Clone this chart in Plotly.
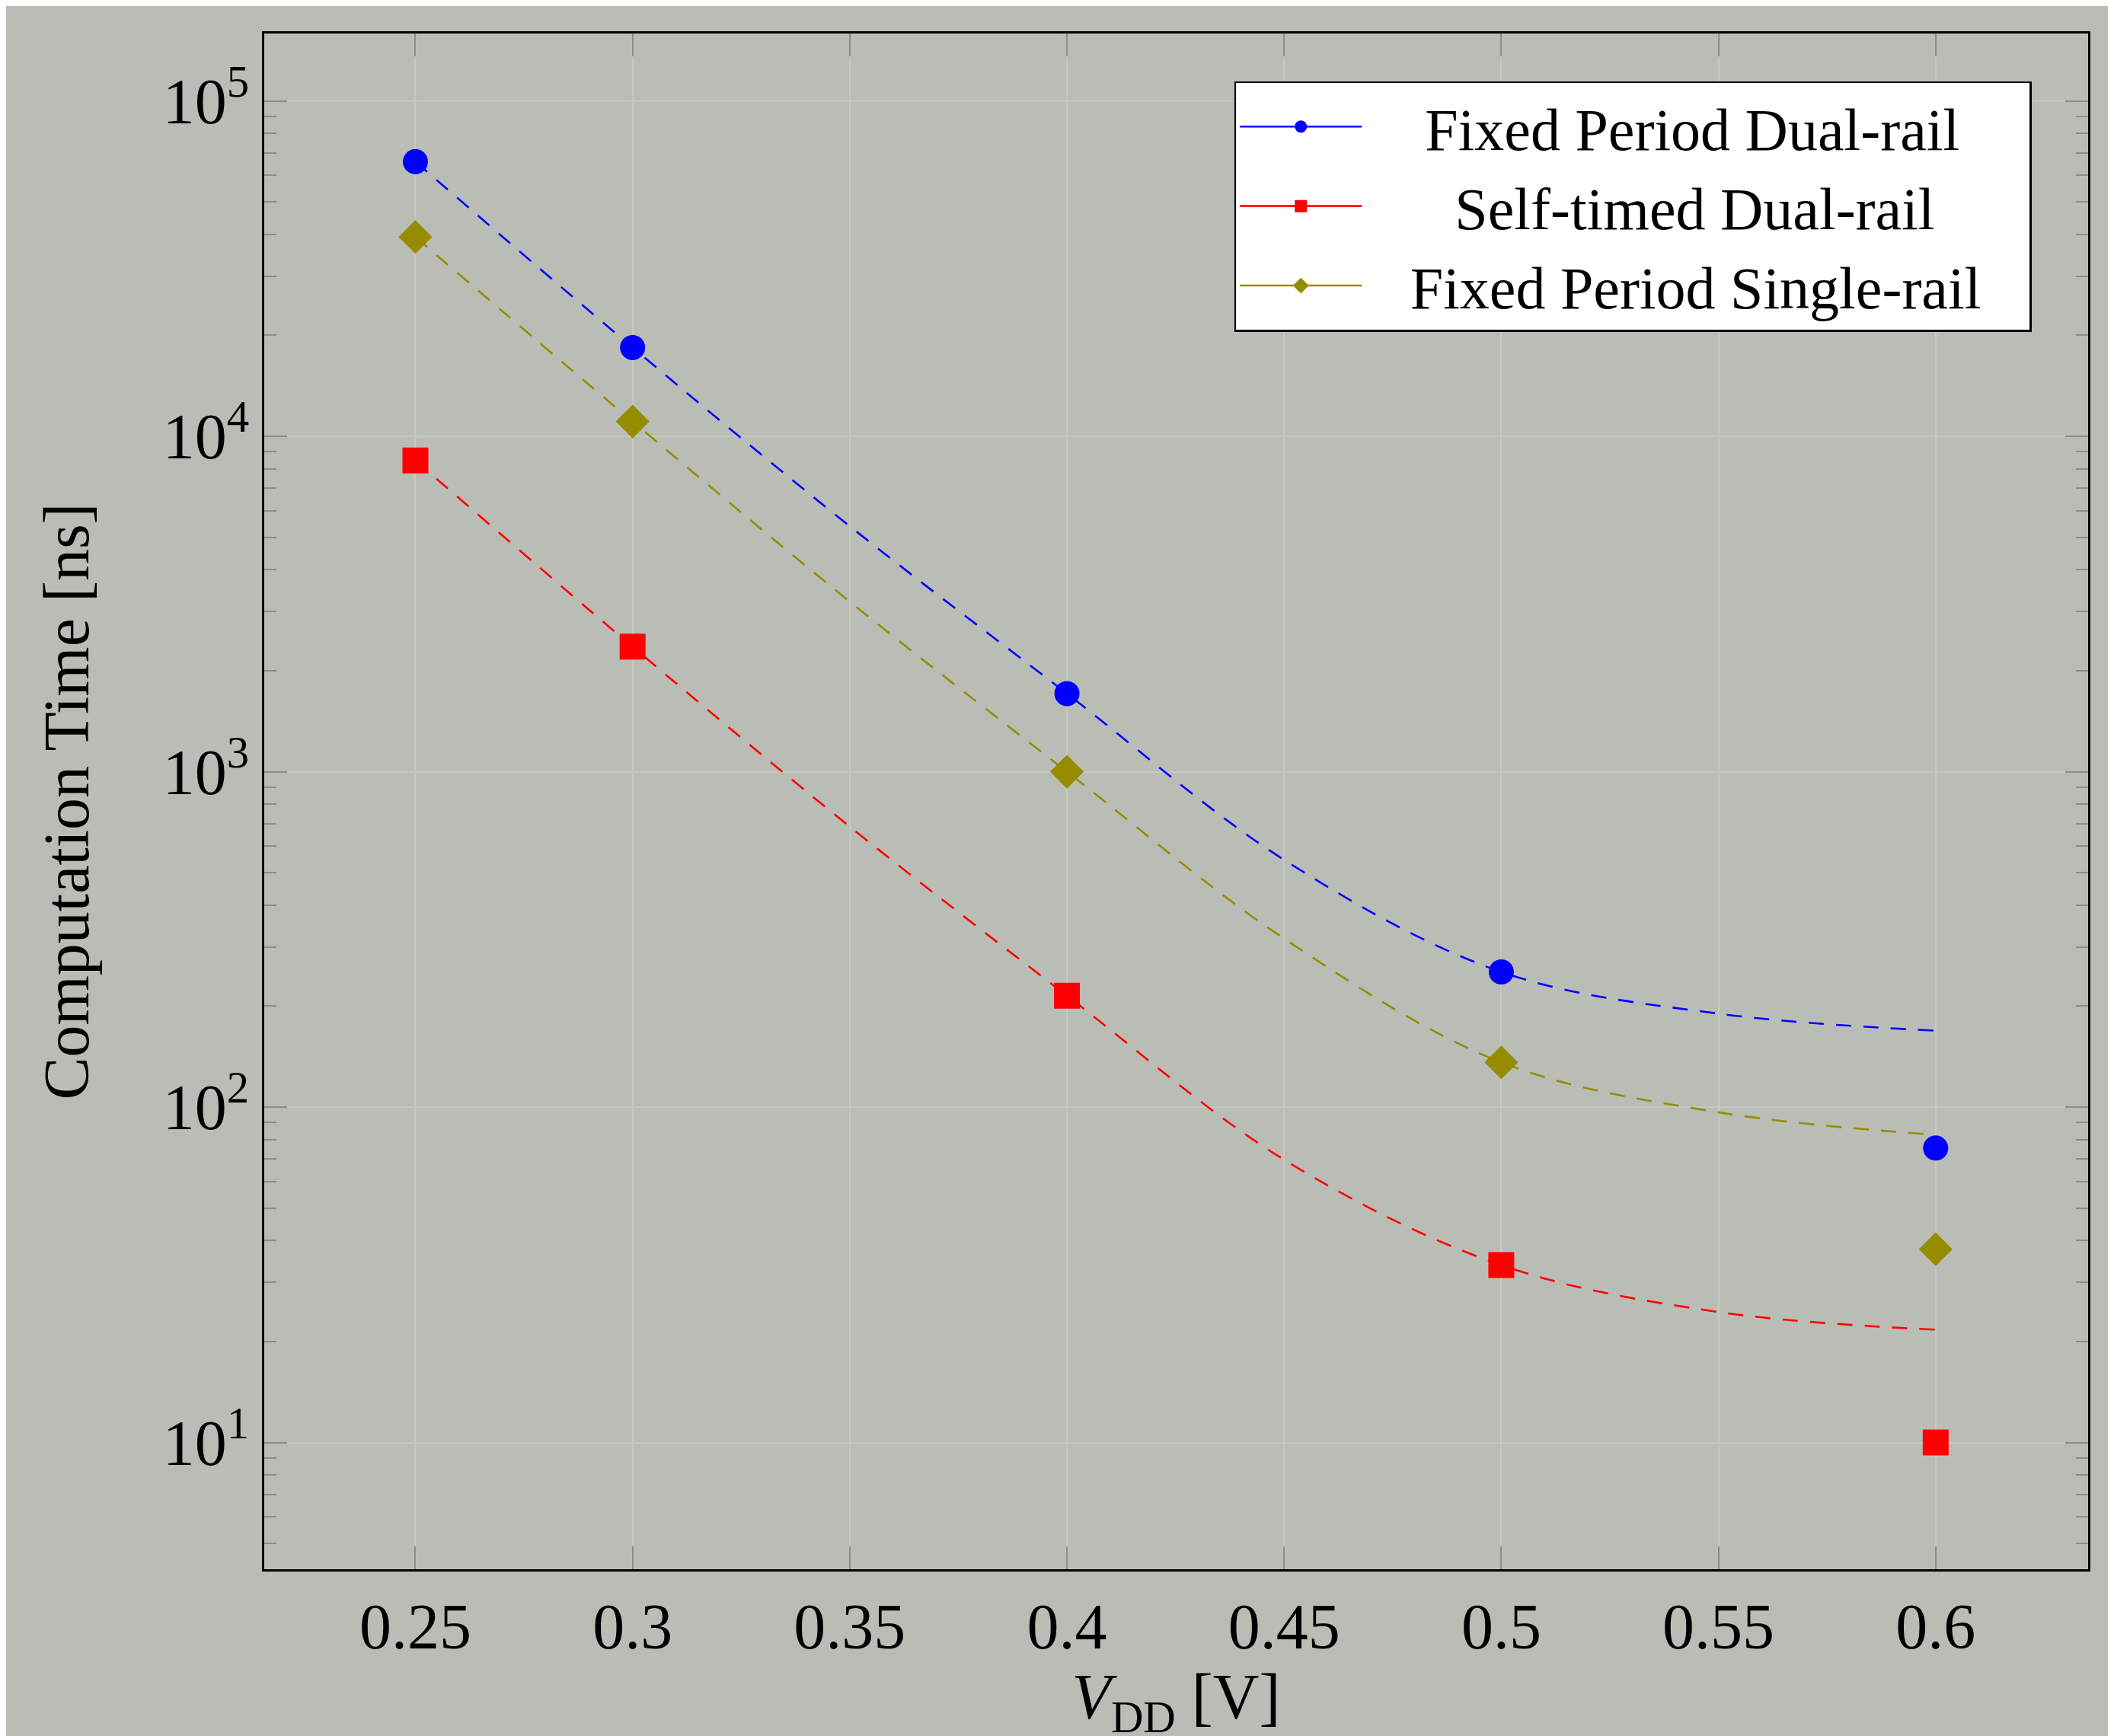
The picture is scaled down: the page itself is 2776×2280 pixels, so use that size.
import plotly.graph_objects as go
import math

# ---- data ----
vdd = [0.25, 0.3, 0.4, 0.5, 0.6]
fixed_dual = [65900, 18400, 1710, 253, 75.5]
self_timed = [8470, 2360, 215, 33.8, 10]
fixed_single = [39300, 11070, 1000, 136, 37.7]

fit_x = [0.25, 0.3, 0.35, 0.4, 0.45, 0.5, 0.55, 0.6]
fit_dual = [65900, 18400, 5395, 1710, 546, 253, 190, 169]
fit_self = [8470, 2360, 686, 215, 69.7, 33.8, 24.5, 21.7]
fit_single = [39300, 11070, 3215, 1000, 318, 136, 96.5, 82.7]

names = ["Fixed Period Dual-rail", "Self-timed Dual-rail", "Fixed Period Single-rail"]
x_ticks = [0.25, 0.3, 0.35, 0.4, 0.45, 0.5, 0.55, 0.6]
x_ticktext = ["0.25", "0.3", "0.35", "0.4", "0.45", "0.5", "0.55", "0.6"]
y_ticks = [10, 100, 1000, 10000, 100000]
y_ticktext = ["10<sup>1</sup>", "10<sup>2</sup>", "10<sup>3</sup>", "10<sup>4</sup>", "10<sup>5</sup>"]

BLUE = "#0000ff"
RED = "#ff0000"
OLIVE = "#968c00"
BG = "#babdb6"
GRID = "#c6c8c3"
TICK = "#8c8c8c"
FONT = "Liberation Serif"
NB = "\u00a0"

# (leading, trailing) non-breaking spaces so legend texts look centred
legend_pad = [(4, 0), (6, 0), (3, 3)]

series = [
    (names[0], fixed_dual, fit_dual, BLUE, "circle", 33),
    (names[1], self_timed, fit_self, RED, "square", 34),
    (names[2], fixed_single, fit_single, OLIVE, "diamond", 34),
]

fig = go.Figure()
for name, vals, fitv, col, sym, size in series:
    fig.add_trace(go.Scatter(
        x=fit_x, y=fitv, mode="lines", showlegend=False, hoverinfo="skip",
        line=dict(color=col, width=2.6, dash="20px,16px", shape="spline", smoothing=1.0),
    ))
for name, vals, fitv, col, sym, size in series:
    fig.add_trace(go.Scatter(
        x=vdd, y=vals, mode="markers", showlegend=False, name=name,
        marker=dict(color=col, symbol=sym, size=size, line=dict(width=0)),
    ))
for (name, vals, fitv, col, sym, size), (lp, tp) in zip(series, legend_pad):
    fig.add_trace(go.Scatter(
        x=[None], y=[None], mode="lines+markers", name=NB * lp + name + NB * tp,
        line=dict(color=col, width=2.6),
        marker=dict(color=col, symbol=sym, size=size, line=dict(width=0)),
    ))

minor_vals = []
for e in range(0, 6):
    for m in range(2, 10):
        minor_vals.append(m * 10 ** e)

# the page body has an 8px margin, so margins are shifted to keep the plot box in place
fig.update_layout(
    width=2776, height=2280,
    paper_bgcolor=BG, plot_bgcolor=BG,
    margin=dict(l=339, r=42, t=36, b=227, autoexpand=False),
    font=dict(family=FONT, size=84, color="black"),
    legend=dict(
        x=0.969, y=0.969, xanchor="right", yanchor="top",
        bgcolor="white", bordercolor="black", borderwidth=2.5,
        font=dict(family=FONT, size=78), itemwidth=160,
        tracegroupgap=0,
    ),
)

fig.update_xaxes(
    range=[0.2152, 0.6351],
    tickmode="array", tickvals=x_ticks, ticktext=x_ticktext,
    ticks="inside", ticklen=30, tickwidth=1.5, tickcolor=TICK,
    showgrid=True, gridcolor=GRID, gridwidth=1.5,
    showline=True, linecolor="black", linewidth=3, mirror="ticks",
    zeroline=False,
    tickfont=dict(family=FONT, size=84),
    title=dict(text="<i>V</i><sub>DD</sub> [V]", font=dict(family=FONT, size=84), standoff=40),
    automargin=False,
)
fig.update_yaxes(
    type="log",
    range=[math.log10(4.19), 5.201],
    tickmode="array", tickvals=y_ticks, ticktext=y_ticktext,
    ticks="inside", ticklen=30, tickwidth=1.5, tickcolor=TICK,
    minor=dict(tickmode="array", tickvals=minor_vals, ticks="inside", ticklen=16,
               tickwidth=1.5, tickcolor=TICK, showgrid=False),
    showgrid=True, gridcolor=GRID, gridwidth=1.5,
    showline=True, linecolor="black", linewidth=3, mirror="ticks",
    zeroline=False,
    tickfont=dict(family=FONT, size=84),
    title=dict(text="Computation Time [ns]", font=dict(family=FONT, size=84), standoff=70),
    automargin=False,
)

fig.write_html("out.html")
